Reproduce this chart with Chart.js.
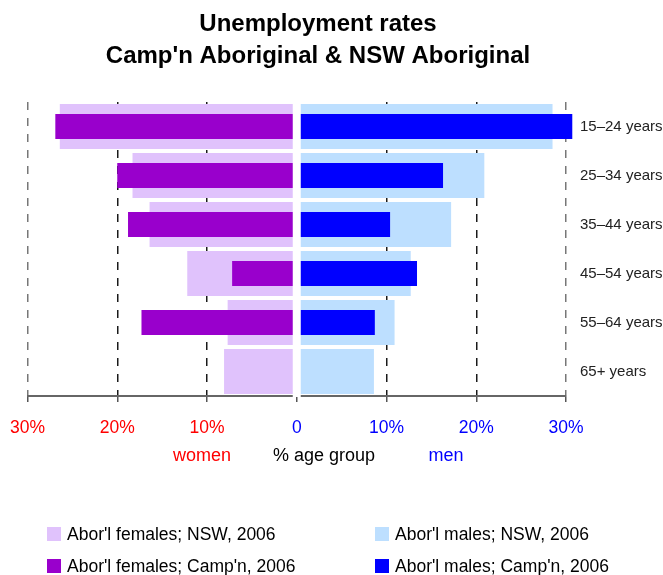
<!DOCTYPE html>
<html>
<head>
<meta charset="utf-8">
<title>Unemployment rates</title>
<script src="https://cdn.jsdelivr.net/npm/chart.js@4.4.0/dist/chart.umd.min.js"></script>
<style>
  html, body { margin: 0; padding: 0; background: #fff; }
  #wrap { position: relative; width: 663px; height: 575px; }
  #legend {
    position: absolute; left: 47px; top: 518px;
    display: grid; grid-template-columns: 328px 260px; grid-auto-rows: 32px;
    font-family: 'Liberation Sans', Arial, sans-serif; font-size: 17.5px; color: #000;
  }
  #legend .item { display: flex; align-items: center; white-space: nowrap; }
  #legend .box { width: 14px; height: 14px; margin-right: 6px; }
</style>
</head>
<body>
<div id="wrap">
  <canvas id="pyramid" width="663" height="575"></canvas>
  <div id="legend"></div>
</div>
<script>
const titleLines = ['Unemployment rates', "Camp'n Aboriginal & NSW Aboriginal"];
const ageGroups = ['15–24 years', '25–34 years', '35–44 years', '45–54 years', '55–64 years', '65+ years'];
const femalesNSW   = [26.4, 18.3, 16.4, 12.2, 7.7, 8.1];
const malesNSW     = [28.5, 20.9, 17.2, 12.7, 10.9, 8.6];
const femalesCampn = [26.9, 20.0, 18.8, 7.2, 17.3, null];
const malesCampn   = [30.7, 16.3, 10.4, 13.4, 8.7, null];
const xTicks = [-30, -20, -10, 0, 10, 20, 30];

// women go to the left of zero
const left = arr => arr.map(v => v == null ? null : -v);

// white stripe down the middle, like the original
const centreGap = {
    id: 'centreGap',
    afterDatasetsDraw(chart) {
        const ctx = chart.ctx, x = chart.scales.x.getPixelForValue(0), a = chart.chartArea;
        ctx.save();
        ctx.fillStyle = '#fff';
        ctx.fillRect(x - 4, a.top - 2, 8, a.bottom - a.top + 3);
        ctx.restore();
    }
};

// title + the women / % age group / men line under the axis
const extraText = {
    id: 'extraText',
    afterDraw(chart) {
        const ctx = chart.ctx;
        ctx.save();
        ctx.textAlign = 'center';
        ctx.fillStyle = '#000';
        ctx.font = 'bold 24px "Liberation Sans", Arial, sans-serif';
        ctx.textBaseline = 'alphabetic';
        ctx.fillText(titleLines[0], 318, 31);
        ctx.fillText(titleLines[1], 318, 62.5);

        ctx.font = '18px "Liberation Sans", Arial, sans-serif';
        ctx.textBaseline = 'middle';
        ctx.fillStyle = '#ff0000';
        ctx.fillText('women', 202, 456);
        ctx.fillStyle = '#000';
        ctx.fillText('% age group', 324, 456);
        ctx.fillStyle = '#0000ff';
        ctx.fillText('men', 446, 456);
        ctx.restore();
    }
};

const chart = new Chart(document.getElementById('pyramid'), {
    type: 'bar',
    data: {
        labels: ageGroups,
        datasets: [
            {
                label: "Abor'l females; NSW, 2006",
                data: left(femalesNSW),
                backgroundColor: '#e0c2fc',
                barPercentage: 0.918, categoryPercentage: 1,
                grouped: false, order: 2, clip: false
            },
            {
                label: "Abor'l males; NSW, 2006",
                data: malesNSW,
                backgroundColor: '#bddfff',
                barPercentage: 0.918, categoryPercentage: 1,
                grouped: false, order: 2, clip: false
            },
            {
                label: "Abor'l females; Camp'n, 2006",
                data: left(femalesCampn),
                backgroundColor: '#9900cc',
                barPercentage: 0.51, categoryPercentage: 1,
                grouped: false, order: 1, clip: false
            },
            {
                label: "Abor'l males; Camp'n, 2006",
                data: malesCampn,
                backgroundColor: '#0000ff',
                barPercentage: 0.51, categoryPercentage: 1,
                grouped: false, order: 1, clip: false
            }
        ]
    },
    options: {
        responsive: false,
        animation: false,
        indexAxis: 'y',
        layout: { padding: { top: 102, left: 27.5, right: 0, bottom: 120 } },
        plugins: {
            legend: { display: false },
            tooltip: { enabled: false },
            title: { display: false }
        },
        scales: {
            x: {
                min: -30,
                max: 30,
                afterBuildTicks: scale => { scale.ticks = xTicks.map(v => ({ value: v })); },
                // keep the plot area where the layout padding puts it
                afterFit: scale => { scale.paddingLeft = 0; scale.paddingRight = 0; },
                ticks: {
                    autoSkip: false,
                    maxRotation: 0,
                    padding: 16,
                    callback: v => v === 0 ? '0' : Math.abs(v) + '%',
                    color: ctx => ctx.tick.value < 0 ? '#ff0000' : '#0000ff',
                    font: { family: "'Liberation Sans', Arial, sans-serif", size: 17.5 }
                },
                grid: {
                    color: ctx => ctx.tick.value === 0 ? 'rgba(0,0,0,0)' : (Math.abs(ctx.tick.value) === 30 ? '#777' : '#1a1a1a'),
                    lineWidth: 1.5,
                    tickLength: 6,
                    tickColor: '#555',
                    tickWidth: 1.5
                },
                border: { display: true, color: '#666', width: 2, dash: [8, 8] }
            },
            y: {
                position: 'right',
                afterFit: scale => { scale.width = 97; },
                grid: { display: false, drawTicks: false },
                border: { display: false },
                ticks: {
                    padding: 14,
                    color: '#222',
                    font: { family: "'Liberation Sans', Arial, sans-serif", size: 15 }
                }
            }
        }
    },
    plugins: [centreGap, extraText]
});

// legend below the chart, two columns
const legendEl = document.getElementById('legend');
chart.data.datasets.forEach(ds => {
    const item = document.createElement('div');
    item.className = 'item';
    item.innerHTML = '<span class="box" style="background:' + ds.backgroundColor + '"></span><span></span>';
    item.lastChild.textContent = ds.label;
    legendEl.appendChild(item);
});
</script>
</body>
</html>
